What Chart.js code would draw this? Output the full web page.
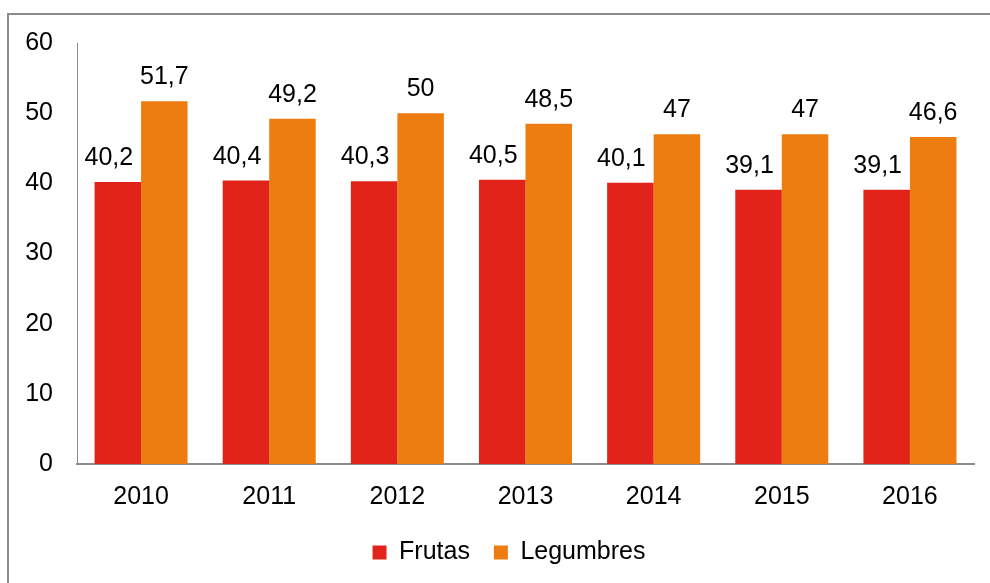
<!DOCTYPE html>
<html>
<head>
<meta charset="utf-8">
<script src="https://cdn.jsdelivr.net/npm/chart.js@4"></script>
<style>
  html, body { margin: 0; padding: 0; background: #fff; overflow: hidden; }
  #wrap { position: relative; width: 990px; height: 583px; }
  #frame { position: absolute; left: 7px; top: 13px; width: 1000px; height: 600px; border: 2px solid #8c8c8c; box-sizing: border-box; }
  canvas { position: absolute; left: 0; top: 0; }
</style>
</head>
<body>
<div id="wrap">
  <div id="frame"></div>
  <canvas id="c" width="990" height="583"></canvas>
</div>
<script>
const categories = ['2010', '2011', '2012', '2013', '2014', '2015', '2016'];
const frutas = [40.2, 40.4, 40.3, 40.5, 40.1, 39.1, 39.1];
const legumbres = [51.7, 49.2, 50, 48.5, 47, 47, 46.6];
const seriesNames = ['Frutas', 'Legumbres'];
const yTicks = [0, 10, 20, 30, 40, 50, 60];

const FONT = '"Liberation Sans", Arial, sans-serif';
const FS = 25;
const labelOffsets = [-9, 0];

const dataLabels = {
  id: 'dataLabels',
  afterDatasetsDraw(chart) {
    const ctx = chart.ctx;
    ctx.save();
    ctx.font = FS + 'px ' + FONT;
    ctx.fillStyle = '#000';
    ctx.textAlign = 'center';
    ctx.textBaseline = 'alphabetic';
    chart.data.datasets.forEach((ds, i) => {
      const meta = chart.getDatasetMeta(i);
      meta.data.forEach((bar, j) => {
        const txt = String(ds.data[j]).replace('.', ',');
        ctx.fillText(txt, bar.x + labelOffsets[i], bar.y - 17);
      });
    });
    ctx.restore();
  }
};

const legendShift = {
  id: 'legendShift',
  afterLayout(chart) {
    const lg = chart.legend;
    if (lg) { lg.left += 22; lg.right += 22; }
  }
};

new Chart(document.getElementById('c'), {
  type: 'bar',
  data: {
    labels: categories,
    datasets: [
      { label: seriesNames[0], data: frutas, backgroundColor: '#E2231A' },
      { label: seriesNames[1], data: legumbres, backgroundColor: '#EE7D11' }
    ]
  },
  options: {
    responsive: false,
    animation: false,
    devicePixelRatio: 1,
    categoryPercentage: 0.726,
    barPercentage: 1,
    layout: { padding: { top: 43, left: 0, right: 16, bottom: 17 } },
    scales: {
      x: {
        grid: { display: false },
        border: { display: true, color: '#8c8c8c', width: 2 },
        ticks: { color: '#000', font: { family: FONT, size: FS }, padding: 10, maxRotation: 0 },
        afterFit(s) { s.height = 52; }
      },
      y: {
        min: 0, max: 60,
        grid: { display: false, drawTicks: false },
        border: { display: true, color: '#8c8c8c', width: 1 },
        afterBuildTicks(s) { s.ticks = yTicks.map(v => ({ value: v })); },
        ticks: { color: '#000', font: { family: FONT, size: FS }, padding: 24 },
        afterFit(s) { s.width = 77; }
      }
    },
    plugins: {
      legend: {
        position: 'bottom',
        maxHeight: 50,
        labels: {
          color: '#000',
          font: { family: FONT, size: FS },
          boxWidth: 14, boxHeight: 14,
          padding: 24
        }
      },
      tooltip: { enabled: false }
    }
  },
  plugins: [dataLabels, legendShift]
});
</script>
</body>
</html>
